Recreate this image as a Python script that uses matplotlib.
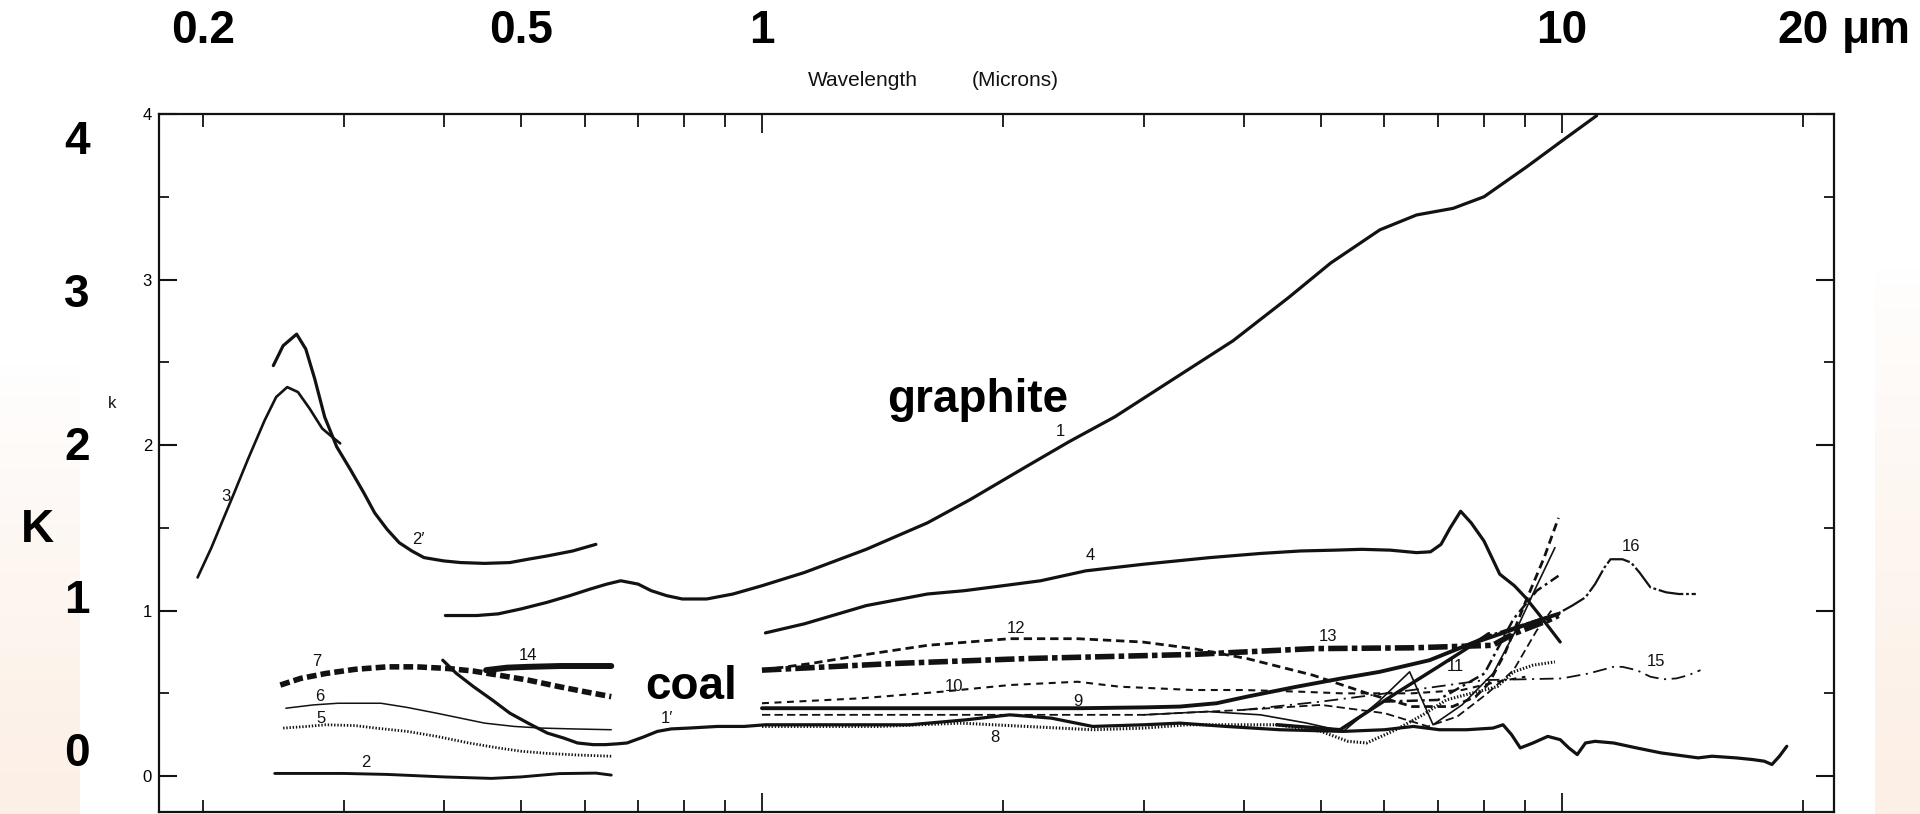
import numpy as np
import matplotlib
matplotlib.use("Agg")
import matplotlib.pyplot as plt
import matplotlib.transforms as mtransforms
from matplotlib.ticker import FixedLocator, NullFormatter

plt.rcParams['lines.scale_dashes'] = False

# ---- data: wavelength (micron) and k ----
wl_c1 = [0.402, 0.44, 0.468, 0.50, 0.539, 0.575, 0.61, 0.64, 0.666, 0.70, 0.727, 0.76, 0.795, 0.853,
         0.92, 1.0, 1.13, 1.35, 1.61, 1.82, 2.14, 2.42, 2.76, 3.2, 3.88, 4.55, 5.14, 5.92, 6.58, 7.31,
         7.99, 9.03, 9.95, 11.05]
k_c1 = [0.97, 0.97, 0.98, 1.01, 1.05, 1.09, 1.13, 1.16, 1.18, 1.16, 1.12, 1.09, 1.07, 1.07,
        1.10, 1.15, 1.23, 1.37, 1.53, 1.67, 1.87, 2.02, 2.17, 2.37, 2.63, 2.89, 3.10, 3.30, 3.39, 3.43,
        3.50, 3.68, 3.83, 3.99]

wl_c1p = [0.399, 0.415, 0.436, 0.46, 0.484, 0.51, 0.539, 0.565, 0.588, 0.615, 0.637, 0.66, 0.678,
          0.71, 0.74, 0.77, 0.81, 0.88, 0.95, 1.01, 1.3, 1.53, 1.8, 2.04, 2.3, 2.59, 3.0, 3.33, 3.8,
          4.44, 5.33, 6.0, 6.52, 7.03, 7.6, 8.2, 8.44, 8.65, 8.87, 9.2, 9.6, 9.95, 10.2, 10.45, 10.7,
          11.0, 11.6, 12.4, 13.3, 14.8, 15.4, 16.5, 17.3, 17.9, 18.3, 18.7, 19.1]
k_c1p = [0.70, 0.62, 0.54, 0.46, 0.38, 0.32, 0.26, 0.23, 0.20, 0.19, 0.19, 0.195, 0.20,
         0.235, 0.27, 0.285, 0.29, 0.30, 0.30, 0.31, 0.31, 0.31, 0.34, 0.37, 0.35, 0.30, 0.31, 0.32, 0.30,
         0.28, 0.27, 0.28, 0.30, 0.28, 0.28, 0.29, 0.31, 0.25, 0.17, 0.20, 0.24, 0.22, 0.17, 0.13, 0.20,
         0.21, 0.20, 0.17, 0.14, 0.11, 0.12, 0.11, 0.10, 0.09, 0.07, 0.12, 0.18]

wl_c2p = [0.245, 0.252, 0.262, 0.269, 0.276, 0.284, 0.294, 0.306, 0.318, 0.328, 0.34, 0.352, 0.365,
          0.378, 0.40, 0.42, 0.45, 0.484, 0.51, 0.539, 0.58, 0.62]
k_c2p = [2.48, 2.60, 2.67, 2.58, 2.40, 2.17, 1.99, 1.85, 1.71, 1.59, 1.49, 1.41, 1.36,
         1.32, 1.30, 1.29, 1.285, 1.29, 1.31, 1.33, 1.36, 1.40]

wl_c3 = [0.197, 0.205, 0.212, 0.218, 0.228, 0.239, 0.247, 0.255, 0.263, 0.272, 0.282, 0.29, 0.297]
k_c3 = [1.20, 1.38, 1.55, 1.69, 1.92, 2.15, 2.29, 2.35, 2.32, 2.22, 2.10, 2.05, 2.01]

wl_c2 = [0.246, 0.30, 0.34, 0.40, 0.459, 0.50, 0.558, 0.62, 0.648]
k_c2 = [0.016, 0.016, 0.01, -0.005, -0.014, -0.005, 0.015, 0.018, 0.006]

wl_c4 = [1.01, 1.13, 1.35, 1.61, 1.79, 2.0, 2.23, 2.54, 3.0, 3.63, 4.2, 4.71, 5.2, 5.62, 6.1, 6.58,
         6.85, 7.06, 7.25, 7.47, 7.7, 7.99, 8.36, 8.72, 9.0, 9.35, 9.95]
k_c4 = [0.865, 0.92, 1.03, 1.10, 1.12, 1.15, 1.18, 1.24, 1.28, 1.32, 1.345, 1.36, 1.365, 1.37, 1.365,
        1.35, 1.355, 1.40, 1.50, 1.60, 1.53, 1.42, 1.22, 1.15, 1.08, 0.98, 0.81]

wl_c5 = [0.252, 0.27, 0.285, 0.31, 0.329, 0.36, 0.392, 0.43, 0.468, 0.50, 0.539, 0.59, 0.648]
k_c5 = [0.29, 0.30, 0.31, 0.305, 0.29, 0.27, 0.24, 0.20, 0.17, 0.15, 0.137, 0.127, 0.12]

wl_c6 = [0.254, 0.275, 0.295, 0.334, 0.36, 0.392, 0.42, 0.45, 0.49, 0.53, 0.58, 0.648]
k_c6 = [0.41, 0.43, 0.44, 0.44, 0.415, 0.38, 0.35, 0.32, 0.30, 0.29, 0.285, 0.28]

wl_c7 = [0.25, 0.265, 0.285, 0.31, 0.34, 0.37, 0.405, 0.435, 0.468, 0.51, 0.558, 0.60, 0.648]
k_c7 = [0.55, 0.59, 0.62, 0.645, 0.66, 0.66, 0.65, 0.635, 0.61, 0.58, 0.54, 0.51, 0.48]

wl_c8 = [1.0, 1.4, 1.77, 2.14, 2.59, 3.0, 3.4, 4.4, 5.0, 5.4, 5.7, 6.2, 6.7, 7.17, 7.7, 8.3, 8.7,
         9.2, 9.8]
k_c8 = [0.30, 0.30, 0.32, 0.30, 0.28, 0.29, 0.31, 0.31, 0.27, 0.21, 0.20, 0.28, 0.37, 0.46, 0.50,
        0.54, 0.63, 0.67, 0.69]

wl_c9 = [1.0, 1.5, 2.0, 2.5, 3.0, 3.33, 3.7, 4.04, 4.66, 5.3, 5.92, 6.83, 7.6, 8.5, 9.2, 9.9]
k_c9 = [0.41, 0.41, 0.41, 0.41, 0.415, 0.42, 0.44, 0.48, 0.54, 0.59, 0.63, 0.70, 0.79, 0.87, 0.93, 0.98]

wl_c10 = [1.0, 1.33, 1.68, 2.04, 2.48, 2.8, 3.46, 4.0, 4.7, 5.3, 6.5, 7.5, 8.3, 9.0]
k_c10 = [0.44, 0.47, 0.51, 0.55, 0.57, 0.54, 0.52, 0.52, 0.51, 0.50, 0.50, 0.52, 0.57, 0.60]

wl_c11 = [3.0, 3.6, 4.2, 4.8, 5.33, 5.9, 6.45, 6.9, 7.5, 8.2, 8.8, 9.3, 9.8]
k_c11 = [0.37, 0.39, 0.37, 0.32, 0.27, 0.45, 0.63, 0.31, 0.43, 0.62, 0.90, 1.15, 1.38]

wl_c12 = [1.0, 1.15, 1.33, 1.61, 2.04, 2.48, 2.99, 3.46, 4.04, 4.88, 5.71, 6.5, 7.3, 7.8, 8.1, 8.5,
          9.0, 9.5, 9.9]
k_c12 = [0.64, 0.68, 0.73, 0.79, 0.83, 0.83, 0.81, 0.77, 0.71, 0.61, 0.50, 0.42, 0.42, 0.48, 0.56,
         0.75, 1.05, 1.32, 1.56]

wl_c13 = [1.0, 1.46, 2.14, 3.46, 4.88, 6.52, 8.19, 8.7, 9.6, 9.9]
k_c13 = [0.64, 0.68, 0.71, 0.735, 0.77, 0.775, 0.79, 0.86, 0.94, 0.97]

wl_c14 = [0.452, 0.48, 0.51, 0.56, 0.648]
k_c14 = [0.64, 0.655, 0.66, 0.665, 0.665]

wl_c15 = [4.0, 5.0, 6.5, 8.0, 9.0, 10.0, 10.8, 11.6, 11.9, 12.4, 12.9, 13.4, 13.9, 14.4, 14.9]
k_c15 = [0.40, 0.45, 0.52, 0.58, 0.585, 0.59, 0.62, 0.66, 0.66, 0.64, 0.60, 0.585, 0.59, 0.61, 0.64]

wl_c16 = [7.0, 8.0, 9.0, 9.87, 10.3, 10.7, 11.0, 11.3, 11.5, 11.9, 12.2, 12.5, 12.9, 13.5, 14.0, 14.7]
k_c16 = [0.72, 0.84, 0.92, 0.98, 1.03, 1.08, 1.16, 1.26, 1.31, 1.31, 1.29, 1.23, 1.14, 1.11, 1.10, 1.10]

# unlabeled traces inside the 4-10 micron bundle
wl_u1 = [1.0, 2.0, 3.0, 4.0, 5.0, 6.0, 6.8, 7.4, 8.07, 8.7, 9.3, 9.7]
k_u1 = [0.37, 0.37, 0.37, 0.40, 0.43, 0.38, 0.30, 0.36, 0.50, 0.64, 0.88, 1.0]
wl_u2 = [6.0, 7.0, 8.0, 8.7, 9.3, 9.9]
k_u2 = [0.45, 0.46, 0.62, 0.95, 1.12, 1.21]
wl_u3 = [4.4, 5.28, 6.2, 7.0, 7.6, 8.1]
k_u3 = [0.31, 0.28, 0.50, 0.66, 0.77, 0.86]

# top / left overlay scale labels
top_ticks = [0.2, 0.5, 1, 10, 20]
top_labels = ['0.2', '0.5', '1', '10', '20']
left_labels = ['4', '3', '2', '1', '0']

# curve number labels: (text, wavelength, k)
curve_labels = [('1', 2.36, 2.08), ('2\u2032', 0.372, 1.43), ('3', 0.214, 1.69), ('4', 2.57, 1.33),
                ('1\u2032', 0.76, 0.35), ('2', 0.32, 0.08), ('5', 0.281, 0.35), ('6', 0.28, 0.48),
                ('7', 0.278, 0.69), ('14', 0.51, 0.73), ('8', 1.955, 0.235), ('9', 2.48, 0.45),
                ('10', 1.74, 0.54), ('12', 2.08, 0.89), ('13', 5.1, 0.845), ('11', 7.35, 0.66),
                ('16', 12.2, 1.39), ('15', 13.1, 0.69)]

ink = '#121212'
solid = '-'
styles = [
    (wl_c1, k_c1, dict(lw=2.3, ls=solid)),
    (wl_c1p, k_c1p, dict(lw=2.3, ls=solid)),
    (wl_c2p, k_c2p, dict(lw=2.3, ls=solid)),
    (wl_c3, k_c3, dict(lw=1.9, ls=solid)),
    (wl_c2, k_c2, dict(lw=2.1, ls=solid)),
    (wl_c4, k_c4, dict(lw=2.3, ls=solid)),
    (wl_c5, k_c5, dict(lw=2.0, ls=(0, (1.0, 1.3)))),
    (wl_c6, k_c6, dict(lw=1.1, ls=solid)),
    (wl_c7, k_c7, dict(lw=4.0, ls=(0, (7, 3)))),
    (wl_c14, k_c14, dict(lw=4.3, ls=solid)),
    (wl_c8, k_c8, dict(lw=2.2, ls=(0, (1.0, 1.3)))),
    (wl_c9, k_c9, dict(lw=2.8, ls=solid)),
    (wl_c10, k_c10, dict(lw=1.5, ls=(0, (5, 4)))),
    (wl_u1, k_u1, dict(lw=1.3, ls=(0, (6, 3)))),
    (wl_c11, k_c11, dict(lw=1.2, ls=solid)),
    (wl_c12, k_c12, dict(lw=2.0, ls=(0, (6, 3.5)))),
    (wl_c13, k_c13, dict(lw=4.0, ls=(0, (14, 3, 4, 3)))),
    (wl_c15, k_c15, dict(lw=1.3, ls=(0, (10, 4, 1.5, 4)))),
    (wl_c16, k_c16, dict(lw=1.6, ls=(0, (18, 2, 2, 2)))),
    (wl_u2, k_u2, dict(lw=1.8, ls=(0, (8, 3, 2, 3)))),
    (wl_u3, k_u3, dict(lw=2.5, ls=solid)),
]

W, H = 1920, 814
fig = plt.figure(figsize=(W / 100, H / 100), dpi=100)

# faint peach tint at both sides of the scan
bg = fig.add_axes([0, 0, 1, 1], zorder=-5)
bg.axis('off')
img = np.ones((H, W, 3))
peach = np.array([252, 239, 229]) / 255.0
for (x0, x1, y0) in [(0, 80, 363), (1875, W, 267)]:
    t = np.clip((np.arange(H) - y0) / (H - y0), 0, 1) ** 0.8
    img[:, x0:x1, :] = 1 - t[:, None, None] * (1 - peach[None, None, :])
bg.imshow(img, aspect='auto', extent=[0, 1, 0, 1], interpolation='bilinear')
bg.set_xlim(0, 1)
bg.set_ylim(0, 1)

ax = fig.add_axes([159 / W, 2 / H, 1675 / W, 698 / H])
ax.set_xscale('log')
ax.set_xlim(0.1763, 21.88)
ax.set_ylim(-0.217, 4.0)
ax.patch.set_alpha(0)

for wl, kk, st in styles:
    ax.plot(wl, kk, color=ink, solid_capstyle='round', solid_joinstyle='round',
            dash_capstyle='butt', **st)

narrow = ['Liberation Sans Narrow', 'Liberation Sans', 'DejaVu Sans']
for txt, x, y in curve_labels:
    ax.text(x, y, txt, fontsize=12, family=narrow, color=ink, ha='center', va='center')

# axis ticks, all pointing inward
ax.xaxis.set_major_locator(FixedLocator([1, 10]))
ax.xaxis.set_minor_locator(FixedLocator([0.2, 0.3, 0.4, 0.5, 0.6, 0.7, 0.8, 0.9,
                                         2, 3, 4, 5, 6, 7, 8, 9, 20]))
ax.xaxis.set_major_formatter(NullFormatter())
ax.xaxis.set_minor_formatter(NullFormatter())
ax.yaxis.set_major_locator(FixedLocator([0, 1, 2, 3, 4]))
ax.yaxis.set_minor_locator(FixedLocator([0.5, 1.5, 2.5, 3.5]))
ax.tick_params(axis='both', which='both', direction='in', top=True, right=True, color=ink)
ax.tick_params(axis='x', which='major', length=14, width=1.3)
ax.tick_params(axis='x', which='minor', length=9, width=1.3)
ax.tick_params(axis='y', which='major', length=13, width=1.5, labelsize=12, pad=5)
ax.tick_params(axis='y', which='minor', length=7, width=1.3)
for lab in ax.get_yticklabels():
    lab.set_family(narrow)
for sp in ax.spines.values():
    sp.set_linewidth(1.6)
    sp.set_color(ink)

# big overlay labels
blend = mtransforms.blended_transform_factory(ax.transData, fig.transFigure)
big = dict(fontsize=33, fontweight='bold', family='Liberation Sans', color='black')
for v, s in zip(top_ticks, top_labels):
    ax.text(v, 1 - 31 / H, s, transform=blend, ha='center', va='center', **big)
ax.annotate('\u03bcm', xy=(20, 1 - 31 / H), xycoords=blend, xytext=(39, 0),
            textcoords='offset pixels', ha='left', va='center', **big)
for s, ypx in zip(left_labels, np.linspace(142, 754, 5)):
    fig.text(77 / W, 1 - ypx / H, s, ha='center', va='center', **big)
fig.text(37 / W, 1 - 530 / H, 'K', ha='center', va='center', **big)

fig.text(112 / W, 1 - 404 / H, 'k', fontsize=12, family=narrow, ha='center', va='center', color=ink)
fig.text(808 / W, 1 - 81 / H, 'Wavelength', fontsize=15, family=narrow, ha='left', va='center', color=ink)
fig.text(972 / W, 1 - 81 / H, '(Microns)', fontsize=15, family=narrow, ha='left', va='center', color=ink)

fig.text(978 / W, 1 - 400 / H, 'graphite', ha='center', va='center', **big)
fig.text(691 / W, 1 - 687 / H, 'coal', ha='center', va='center', **big)

fig.savefig('out.png', dpi=100)
